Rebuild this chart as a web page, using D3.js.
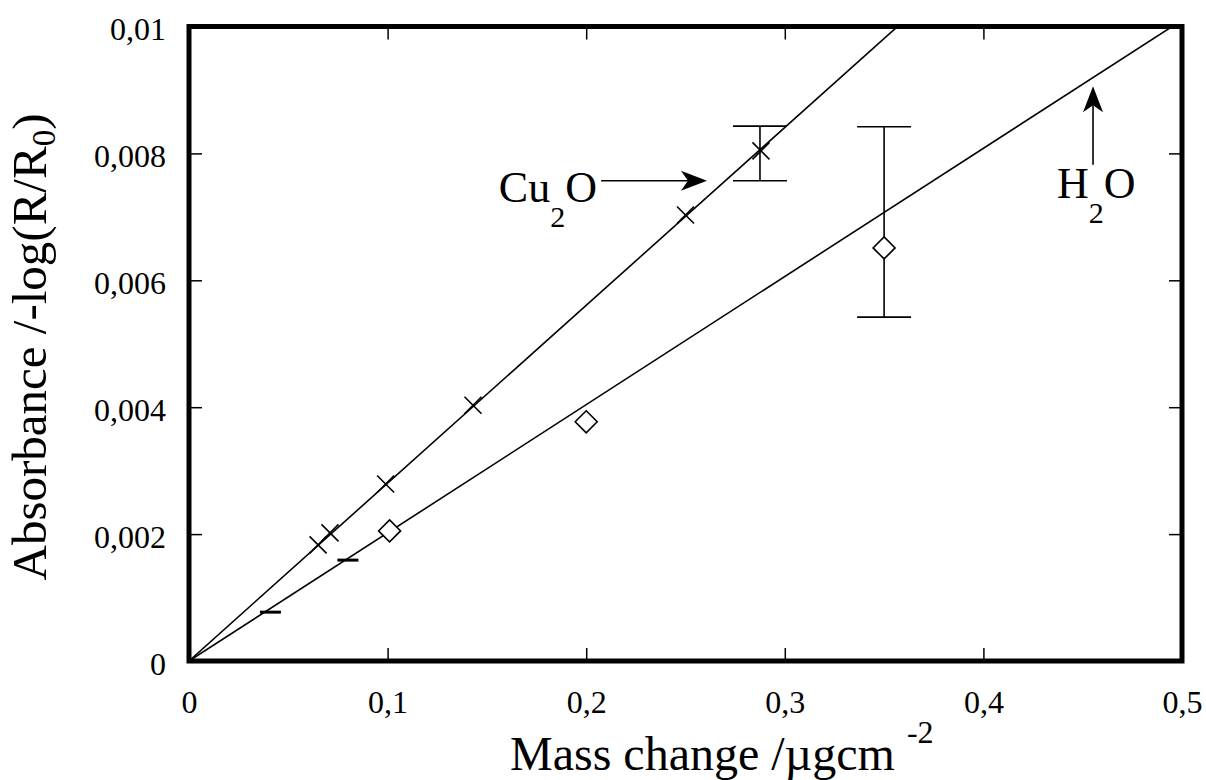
<!DOCTYPE html>
<html><head><meta charset="utf-8">
<script src="https://cdn.jsdelivr.net/npm/d3@7"></script>
<style>html,body{margin:0;padding:0;background:#fff;}svg{display:block;}
svg text{font-family:"Liberation Serif","Times New Roman",Times,serif !important;}</style>
</head><body>
<svg id="chart" width="1206" height="780"></svg>
<script>
// ---- data ----
const xTicks = [0, 0.1, 0.2, 0.3, 0.4, 0.5];
const xTickLabels = ["0", "0,1", "0,2", "0,3", "0,4", "0,5"];
const yTicks = [0, 0.002, 0.004, 0.006, 0.008, 0.01];
const yTickLabels = ["0", "0,002", "0,004", "0,006", "0,008", "0,01"];

const cu2oX = [0.065, 0.071, 0.099, 0.143, 0.250, 0.288];
const cu2oY = [0.00183, 0.00202, 0.00279, 0.00403, 0.00703, 0.00804];
const h2oX = [0.101, 0.200, 0.350];
const h2oY = [0.00205, 0.00377, 0.00651];
const dashX = [0.041, 0.080];
const dashY = [0.00077, 0.00159];

const cu2oSlope = 0.02803;
const h2oSlope = 0.0202;

const errX = [0.2875, 0.350];
const errLo = [0.00757, 0.00542];
const errHi = [0.00843, 0.00842];

// ---- layout ----
const W = 1206, H = 780;
const pLeft = 189, pRight = 1182, pTop = 26.5, pBottom = 661;
const svg = d3.select("#chart");
const FONT = "Liberation Serif";

const x = d3.scaleLinear().domain([0, 0.5]).range([pLeft, pRight]);
const y = d3.scaleLinear().domain([0, 0.01]).range([pBottom, pTop]);

svg.append("rect").attr("width", W).attr("height", H).attr("fill", "#fff");

svg.append("clipPath").attr("id", "clip").append("rect")
  .attr("x", pLeft).attr("y", pTop).attr("width", pRight - pLeft).attr("height", pBottom - pTop);

const tickLen = 13;
const gx = svg.append("g").attr("transform", `translate(0,${pBottom})`)
  .call(d3.axisBottom(x).tickValues(xTicks).tickSize(-tickLen).tickPadding(52)
    .tickFormat((d, i) => xTickLabels[i]));
const gxt = svg.append("g").attr("transform", `translate(0,${pTop})`)
  .call(d3.axisTop(x).tickValues(xTicks).tickSize(-tickLen).tickFormat(""));
const gy = svg.append("g").attr("transform", `translate(${pLeft},0)`)
  .call(d3.axisLeft(y).tickValues(yTicks).tickSize(-tickLen).tickPadding(23)
    .tickFormat((d, i) => yTickLabels[i]));
const gyr = svg.append("g").attr("transform", `translate(${pRight},0)`)
  .call(d3.axisRight(y).tickValues(yTicks).tickSize(-tickLen).tickFormat(""));

[gx, gxt, gy, gyr].forEach(g => {
  g.attr("font-family", FONT).attr("font-size", 32);
  g.select(".domain").remove();
  g.selectAll(".tick line").attr("stroke", "#000").attr("stroke-width", 1.5);
  g.selectAll(".tick text").attr("fill", "#000");
});
gy.selectAll(".tick text").attr("dy", "0.42em");
gx.selectAll(".tick text").attr("dy", "0");

svg.append("rect").attr("x", pLeft).attr("y", pTop).attr("width", pRight - pLeft).attr("height", pBottom - pTop)
  .attr("fill", "none").attr("stroke", "#000").attr("stroke-width", 5);

const plot = svg.append("g").attr("clip-path", "url(#clip)");

const line = d3.line().x(d => x(d[0])).y(d => y(d[1]));
plot.append("path").datum([[0, 0], [0.5, 0.5 * cu2oSlope]]).attr("d", line)
  .attr("stroke", "#000").attr("stroke-width", 1.6).attr("fill", "none");
plot.append("path").datum([[0, 0], [0.5, 0.5 * h2oSlope]]).attr("d", line)
  .attr("stroke", "#000").attr("stroke-width", 1.6).attr("fill", "none");

const capHalf = 27;
errX.forEach((ex, i) => {
  const g = svg.append("g").attr("stroke", "#000").attr("stroke-width", 1.6);
  g.append("line").attr("x1", x(ex)).attr("x2", x(ex)).attr("y1", y(errLo[i])).attr("y2", y(errHi[i]));
  g.append("line").attr("x1", x(ex) - capHalf).attr("x2", x(ex) + capHalf).attr("y1", y(errLo[i])).attr("y2", y(errLo[i]));
  g.append("line").attr("x1", x(ex) - capHalf).attr("x2", x(ex) + capHalf).attr("y1", y(errHi[i])).attr("y2", y(errHi[i]));
});

const cs = 8.5;
cu2oX.forEach((cx, i) => {
  const px = x(cx), py = y(cu2oY[i]);
  svg.append("path").attr("d", `M${px - cs},${py - cs}L${px + cs},${py + cs}M${px - cs},${py + cs}L${px + cs},${py - cs}`)
    .attr("stroke", "#000").attr("stroke-width", 1.6).attr("fill", "none");
});

const ds = 11;
h2oX.forEach((hx, i) => {
  const px = x(hx), py = y(h2oY[i]);
  svg.append("path").attr("d", `M${px},${py - ds}L${px + ds},${py}L${px},${py + ds}L${px - ds},${py}Z`)
    .attr("stroke", "#000").attr("stroke-width", 1.6).attr("fill", "#fff");
});

dashX.forEach((dx, i) => {
  svg.append("line").attr("x1", x(dx) - 10.5).attr("x2", x(dx) + 10.5).attr("y1", y(dashY[i])).attr("y2", y(dashY[i]))
    .attr("stroke", "#000").attr("stroke-width", 3);
});

function arrow(x1, y1, x2, y2) {
  const ang = Math.atan2(y2 - y1, x2 - x1);
  const L = 26, Wd = 10, back = 7;
  const bx = x2 - L * Math.cos(ang), by = y2 - L * Math.sin(ang);
  const nx = -Math.sin(ang), ny = Math.cos(ang);
  const ix = x2 - (L - back) * Math.cos(ang), iy = y2 - (L - back) * Math.sin(ang);
  svg.append("line").attr("x1", x1).attr("y1", y1).attr("x2", ix).attr("y2", iy)
    .attr("stroke", "#000").attr("stroke-width", 1.6);
  svg.append("path").attr("d", `M${x2},${y2}L${bx + nx * Wd},${by + ny * Wd}L${ix},${iy}L${bx - nx * Wd},${by - ny * Wd}Z`)
    .attr("fill", "#000");
}
arrow(x(0.2075), y(0.00757), x(0.2608), y(0.00757));
arrow(x(0.4552), y(0.00782), x(0.4552), y(0.00906));

function chem(px, py, a, sub, b) {
  const t = svg.append("text").attr("x", px).attr("y", py).attr("font-family", FONT).attr("font-size", 44).attr("fill", "#000");
  t.append("tspan").text(a);
  t.append("tspan").attr("dy", 25).attr("font-size", 30).text(sub);
  t.append("tspan").attr("dy", -25).text(b);
}
chem(x(0.156), y(0.00723), "Cu", "2", "O");
chem(x(0.437), y(0.0073), "H", "2", "O");

const xt = svg.append("text").attr("x", 510).attr("y", 770).attr("font-family", FONT).attr("font-size", 48).attr("fill", "#000");
xt.append("tspan").text("Mass change /\u00B5gcm");
xt.append("tspan").attr("dx", 12).attr("dy", -27).attr("font-size", 32).text("-2");

const yt = svg.append("text").attr("transform", "translate(46,347) rotate(-90)").attr("text-anchor", "middle")
  .attr("font-family", FONT).attr("font-size", 49).attr("fill", "#000");
yt.append("tspan").text("Absorbance /-log(R/R");
yt.append("tspan").attr("dy", 9).attr("font-size", 33).text("0");
yt.append("tspan").attr("dy", -9).text(")");
</script>
</body></html>
